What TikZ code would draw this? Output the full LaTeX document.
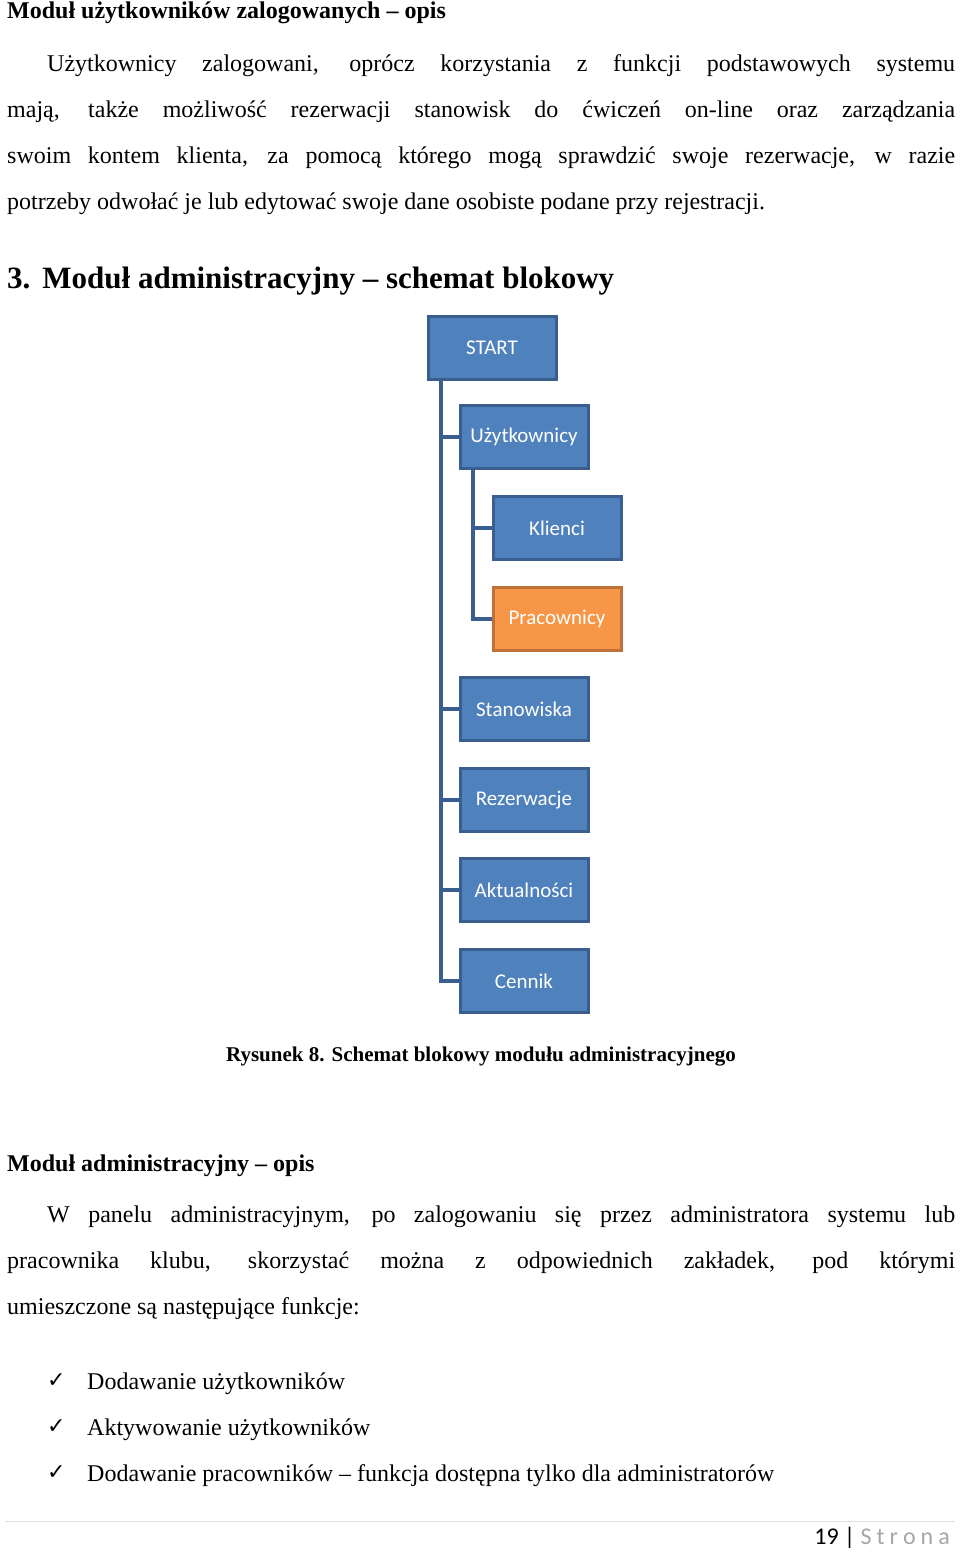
\documentclass[tikz,border=0pt]{standalone}
\usepackage{fontspec}
\setmainfont{Liberation Serif}
\newfontfamily\calfont{Carlito}
\newfontfamily\djfont{DejaVu Sans}
\definecolor{bfill}{HTML}{4F81BD}
\definecolor{bline}{HTML}{3A5F8F}
\definecolor{ofill}{HTML}{F79646}
\definecolor{oline}{HTML}{C0713A}
\definecolor{grayt}{HTML}{A6A6A6}
\begin{document}
\begin{tikzpicture}[x=1pt,y=-1pt,
  bx/.style={draw=bline,fill=bfill,line width=3pt,minimum width=128pt,minimum height=63pt,text=white,font=\calfont\fontsize{21}{24}\selectfont,inner sep=0pt},
  ob/.style={bx,draw=oline,fill=ofill},
  ln/.style={draw=bline,line width=4pt},
  txt/.style={anchor=north west,inner sep=0pt,font=\fontsize{24}{46}\selectfont}]
\useasboundingbox[fill=white] (0,0) rectangle (960,1553);
\node[anchor=west,inner sep=0pt,font=\bfseries\fontsize{24}{28}\selectfont] (h1) at (7,13) {Moduł użytkowników zalogowanych – opis};
\node[txt,text width=948pt,align=justify] (p1) at (7,54) {\hspace*{40pt}Użytkownicy zalogowani, oprócz korzystania z funkcji podstawowych systemu\linebreak mają, także możliwość rezerwacji stanowisk do ćwiczeń on-line oraz zarządzania\linebreak swoim kontem klienta, za pomocą którego mogą sprawdzić swoje rezerwacje, w razie\linebreak potrzeby odwołać je lub edytować swoje dane osobiste podane przy rejestracji.};
\node[anchor=west,inner sep=0pt,font=\bfseries\fontsize{31}{34}\selectfont] (h2) at (7,281) {3.\hspace{12pt}Moduł administracyjny – schemat blokowy};
\path (492,348) coordinate (sc) (524,437) coordinate (uc) (557,528) coordinate (kc) (557,619) coordinate (pc)
  (524,709) coordinate (stc) (524,800) coordinate (rc) (524,890) coordinate (ac) (524,981) coordinate (cc);
\draw[ln] (428,380) coordinate (t1a) ++(13,0) coordinate (t1) -- (t1 |- cc) -- ++(20,0);
\foreach \n in {uc,stc,rc,ac} \draw[ln] (t1 |- \n) -- ++(20,0);
\draw[ln] (473,470) coordinate (t2) -- (t2 |- pc) -- ++(20,0);
\draw[ln] (t2 |- kc) -- ++(20,0);
\node[bx] (s) at (sc) {START};
\node[bx] (u) at (uc) {Użytkownicy};
\node[bx] (k) at (kc) {Klienci};
\node[ob] (p) at (pc) {Pracownicy};
\node[bx] (st) at (stc) {Stanowiska};
\node[bx] (r) at (rc) {Rezerwacje};
\node[bx] (a) at (ac) {Aktualności};
\node[bx] (c) at (cc) {Cennik};
\node[inner sep=0pt,font=\bfseries\fontsize{21}{24}\selectfont] (cap) at (481,1057) {Rysunek 8. Schemat blokowy modułu administracyjnego};
\node[anchor=west,inner sep=0pt,font=\bfseries\fontsize{24}{28}\selectfont] (h3) at (7,1166) {Moduł administracyjny – opis};
\node[txt,text width=948pt,align=justify] (p2) at (7,1206) {\hspace*{40pt}W panelu administracyjnym, po zalogowaniu się przez administratora systemu lub\linebreak pracownika klubu, skorzystać można z odpowiednich zakładek, pod którymi\linebreak umieszczone są następujące funkcje:};
\foreach \y/\t [count=\i] in {1384/Dodawanie użytkowników,1430/Aktywowanie użytkowników,1476/Dodawanie pracowników – funkcja dostępna tylko dla administratorów}{
  \node[anchor=west,inner sep=0pt,font=\djfont\fontsize{22}{24}\selectfont] (ck\i) at (47,\y-3) {✓};
  \node[anchor=west,inner sep=0pt,font=\fontsize{24}{28}\selectfont] (li\i) at (87,\y) {\t};
}
\draw[draw=black!12,line width=1pt] (5,1521) coordinate (f1) -- (955,1521) coordinate (f2);
\node[anchor=east,inner sep=0pt,font=\calfont\fontsize{24}{28}\selectfont] (ft) at (950,1538) {19 | \textcolor{grayt}{S\hspace{5pt}t\hspace{5pt}r\hspace{5pt}o\hspace{5pt}n\hspace{5pt}a}};
\end{tikzpicture}
\end{document}
